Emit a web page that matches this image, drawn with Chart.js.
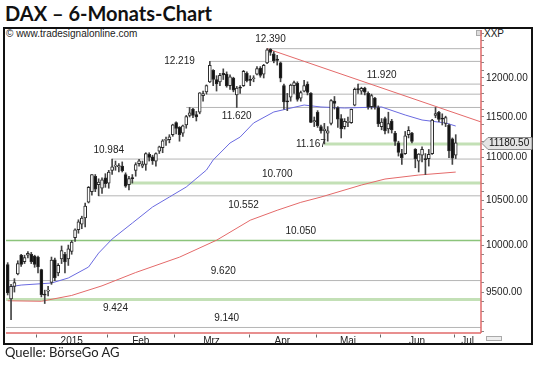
<!DOCTYPE html>
<html>
<head>
<meta charset="utf-8">
<script src="https://cdn.jsdelivr.net/npm/chart.js@4.4.1/dist/chart.umd.min.js"></script>
<style>
  html, body { margin: 0; padding: 0; background: #fff; }
  #wrap { position: relative; width: 540px; height: 370px; overflow: hidden; }
  #title { position: absolute; left: 5px; top: 1px; font: bold 20px Lato, sans-serif; color: #111; white-space: nowrap; }
  #frame { position: absolute; left: 3px; top: 27px; width: 526px; height: 314px; border: 2px solid #111; }
  #copy { position: absolute; left: 6px; top: 28px; font: 10px "Liberation Sans", Arial, sans-serif; color: #222; white-space: nowrap; }
  #sym { position: absolute; left: 484px; top: 28px; font: 10px "Liberation Sans", Arial, sans-serif; color: #222; }
  #icon { position: absolute; left: 476px; top: 30px; width: 4px; height: 4px; border: 1px solid #aaa; background: #ddd; }
  #zoomicon { position: absolute; left: 486px; top: 336px; width: 14px; height: 3px; border: 1px solid #aaa; background: #eee; }
  #src { position: absolute; left: 5px; top: 344px; font: 13px Lato, sans-serif; color: #222; white-space: nowrap; }
  canvas { position: absolute; left: 0; top: 0; }
</style>
</head>
<body>
<div id="wrap">
  <div id="title">DAX – 6-Monats-Chart</div>
  <div id="frame"></div>
  <div id="copy">© www.tradesignalonline.com</div>
  <div id="icon"></div>
  <div id="sym">XXP</div>
  <div id="zoomicon"></div>
  <canvas id="c" width="540" height="370"></canvas>
  <div id="src">Quelle: BörseGo AG</div>
</div>
<script>
// trading days shown (dd.mm.yyyy)
const days = [
  '15.12.2014','16.12.2014','17.12.2014','18.12.2014','19.12.2014','22.12.2014','23.12.2014','29.12.2014','30.12.2014',
  '02.01.2015','05.01.2015','06.01.2015','07.01.2015','08.01.2015','09.01.2015','12.01.2015','13.01.2015','14.01.2015','15.01.2015','16.01.2015',
  '19.01.2015','20.01.2015','21.01.2015','22.01.2015','23.01.2015','26.01.2015','27.01.2015','28.01.2015','29.01.2015','30.01.2015',
  '02.02.2015','03.02.2015','04.02.2015','05.02.2015','06.02.2015','09.02.2015','10.02.2015','11.02.2015','12.02.2015','13.02.2015',
  '16.02.2015','17.02.2015','18.02.2015','19.02.2015','20.02.2015','23.02.2015','24.02.2015','25.02.2015','26.02.2015','27.02.2015',
  '02.03.2015','03.03.2015','04.03.2015','05.03.2015','06.03.2015','09.03.2015','10.03.2015','11.03.2015','12.03.2015','13.03.2015',
  '16.03.2015','17.03.2015','18.03.2015','19.03.2015','20.03.2015','23.03.2015','24.03.2015','25.03.2015','26.03.2015','27.03.2015',
  '30.03.2015','31.03.2015',
  '01.04.2015','02.04.2015','07.04.2015','08.04.2015','09.04.2015','10.04.2015','13.04.2015','14.04.2015','15.04.2015','16.04.2015',
  '17.04.2015','20.04.2015','21.04.2015','22.04.2015','23.04.2015','24.04.2015','27.04.2015','28.04.2015','29.04.2015','30.04.2015',
  '04.05.2015','05.05.2015','06.05.2015','07.05.2015','08.05.2015','11.05.2015','12.05.2015','13.05.2015','14.05.2015','15.05.2015',
  '18.05.2015','19.05.2015','20.05.2015','21.05.2015','22.05.2015','26.05.2015','27.05.2015','28.05.2015','29.05.2015',
  '01.06.2015','02.06.2015','03.06.2015','04.06.2015','05.06.2015','08.06.2015','09.06.2015','10.06.2015','11.06.2015','12.06.2015',
  '15.06.2015','16.06.2015','17.06.2015','18.06.2015','19.06.2015','22.06.2015','23.06.2015','24.06.2015','25.06.2015','26.06.2015',
  '29.06.2015','30.06.2015',
  '01.07.2015'
];

const open = [
  9790, 9430, 9560, 9690, 9890, 9820, 9890, 9900, 9880,
  9870, 9735, 9480, 9510, 9600, 9840, 9700, 9850, 9900, 9850, 9930,
  10080, 10170, 10230, 10300, 10480, 10600, 10780, 10680, 10640, 10760,
  10700, 10850, 10900, 10890, 10900, 10800, 10680, 10760, 10850, 10930,
  10900, 10920, 11040, 11010, 10960, 11080, 11120, 11210, 11220, 11280,
  11430, 11370, 11300, 11400, 11520, 11600, 11530, 11560, 11770, 11820,
  11950, 12100, 11980, 11950, 12060, 12050, 11900, 12000, 11780, 11880,
  11900, 12060,
  11980, 11990, 12050, 12130, 12050, 12200, 12380, 12320, 12250, 12200,
  11900, 11700, 11750, 11900, 11930, 11740, 11830, 11920, 11800, 11440,
  11560, 11380, 11330, 11300, 11420, 11700, 11620, 11480, 11380, 11430,
  11430, 11650, 11850, 11830, 11870, 11800, 11630, 11740, 11620,
  11380, 11480, 11350, 11450, 11300, 11180, 11050, 11050, 11280, 11300,
  11100, 10960, 11030, 10980, 10990, 11050, 11520, 11560, 11480, 11420,
  11400, 11230,
  11030
];
const high = [
  9810, 9580, 9640, 9830, 9900, 9890, 9930, 9920, 9890,
  9880, 9740, 9520, 9560, 9870, 9860, 9800, 9990, 9920, 10000, 10050,
  10180, 10280, 10320, 10470, 10660, 10800, 10800, 10750, 10760, 10810,
  10850, 10984, 10960, 10930, 10950, 10820, 10780, 10800, 10940, 10980,
  10960, 11060, 11060, 11030, 11060, 11140, 11220, 11250, 11280, 11410,
  11440, 11380, 11400, 11520, 11620, 11610, 11570, 11810, 11830, 11910,
  12219, 12110, 12030, 12060, 12120, 12080, 12040, 12010, 11890, 11900,
  12100, 12080,
  12030, 12030, 12150, 12150, 12180, 12390, 12390, 12350, 12300, 12210,
  11920, 11800, 11920, 11960, 11950, 11830, 11970, 11950, 11810, 11500,
  11580, 11400, 11420, 11380, 11720, 11760, 11630, 11530, 11480, 11500,
  11600, 11870, 11920, 11880, 11880, 11820, 11790, 11750, 11640,
  11480, 11500, 11560, 11470, 11320, 11200, 11100, 11320, 11380, 11310,
  11110, 11050, 11130, 11050, 11100, 11470, 11620, 11570, 11540, 11510,
  11410, 11240,
  11280
];
const low = [
  9470, 9219, 9500, 9680, 9770, 9800, 9860, 9800, 9760,
  9700, 9450, 9382, 9460, 9580, 9620, 9670, 9800, 9700, 9780, 9900,
  10040, 10130, 10180, 10200, 10470, 10560, 10600, 10552, 10580, 10650,
  10640, 10800, 10850, 10830, 10830, 10650, 10620, 10700, 10780, 10900,
  10880, 10850, 10960, 10920, 10900, 11050, 11060, 11150, 11180, 11260,
  11290, 11200, 11260, 11360, 11500, 11490, 11450, 11540, 11700, 11790,
  11940, 11900, 11830, 11900, 11980, 11880, 11850, 11820, 11620, 11800,
  11890, 11950,
  11900, 11950, 12040, 12010, 12000, 12190, 12300, 12200, 12170, 11950,
  11600, 11580, 11700, 11800, 11700, 11700, 11820, 11780, 11430, 11380,
  11370, 11300, 11167, 11200, 11400, 11600, 11370, 11240, 11350, 11380,
  11420, 11640, 11800, 11790, 11780, 11600, 11600, 11600, 11380,
  11340, 11290, 11300, 11300, 11150, 11020, 10920, 11040, 11240, 11180,
  10880, 10830, 10950, 10800, 10900, 11040, 11490, 11440, 11400, 11380,
  11000, 10920,
  10990
];
const close = [
  9490, 9560, 9600, 9800, 9790, 9865, 9910, 9820, 9790,
  9764, 9473, 9469, 9518, 9837, 9648, 9781, 9941, 9818, 9960, 10032,
  10167, 10257, 10299, 10435, 10649, 10798, 10628, 10710, 10738, 10694,
  10828, 10891, 10911, 10906, 10846, 10664, 10753, 10752, 10919, 10963,
  10924, 11050, 11005, 10961, 11051, 11130, 11206, 11211, 11253, 11402,
  11356, 11280, 11390, 11504, 11551, 11520, 11500, 11806, 11799, 11901,
  12168, 11980, 11922, 12036, 12040, 11896, 12016, 11843, 11868, 11868,
  12086, 11966,
  11968, 12001, 12124, 12035, 12166, 12375, 12338, 12227, 12231, 11999,
  11689, 11692, 11906, 11939, 11723, 11811, 11902, 11812, 11432, 11454,
  11390, 11327, 11350, 11327, 11709, 11673, 11472, 11351, 11446, 11447,
  11595, 11853, 11848, 11864, 11815, 11625, 11771, 11624, 11413,
  11436, 11327, 11419, 11340, 11197, 11065, 11001, 11265, 11333, 11197,
  10985, 11045, 11100, 10978, 11041, 11461, 11542, 11471, 11473, 11492,
  11083, 10995,
  11180.5
];

// moving averages at these days
const ma50Days = ['15.12.2014','19.12.2014','08.01.2015','15.01.2015','23.01.2015','28.01.2015','03.02.2015','11.02.2015',
  '19.02.2015','26.02.2015','05.03.2015','13.03.2015','17.03.2015','24.03.2015','27.03.2015','02.04.2015','14.04.2015',
  '27.04.2015','05.05.2015','14.05.2015','01.06.2015','10.06.2015','17.06.2015','26.06.2015','01.07.2015'];
const ma50 = [9552, 9573, 9594, 9647, 9763, 9913, 10066, 10243,
  10424, 10538, 10654, 10853, 10973, 11178, 11251, 11425, 11563,
  11651, 11626, 11613, 11626, 11525, 11462, 11425, 11387];

const ma200Days = ['15.12.2014','05.01.2015','16.01.2015','29.01.2015','12.02.2015','03.03.2015','18.03.2015','01.04.2015',
  '15.04.2015','24.04.2015','05.05.2015','21.05.2015','02.06.2015','16.06.2015','01.07.2015'];
const ma200 = [9410, 9405, 9465, 9565, 9705, 9869, 10053, 10275,
  10387, 10477, 10538, 10677, 10747, 10794, 10829];

// horizontal levels and the day each one starts at (null = whole width)
const levels = [12390, 12219, 11920, 11790, 11620, 11167, 10984, 10700, 10552, 10050, 9620, 9424, 9140];
const levelFrom = ['10.04.2015','16.03.2015','20.05.2015','13.03.2015','05.03.2015','06.05.2015','03.02.2015',
  '10.02.2015','28.01.2015', null, null, null, null];
const levelText = ['12.390','12.219','11.920','','11.620','11.167','10.984','10.700','10.552','10.050','9.620','9.424','9.140'];

// trend line from the high
const trendDays = ['10.04.2015', '23.06.2015'];
const trendValues = [12390, 11634];

const monthNames = ['2015', 'Feb', 'Mrz', 'Apr', 'Mai', 'Jun', 'Jul'];
const yLabelValues = [9500, 10000, 10500, 11000, 11500, 12000];

// ---- layout / style config ----
const rightPadDays = 7;
const yMin = 9085, yMax = 12645, minorStep = 100;
const greenThick = [11167, 10700, 9424];
const greenThin = [10050];
// where each level label sits: [day for x centre, above/below/on the line]
const labelLayout = [
  ['13.04.2015', 'above'], ['03.03.2015', 'on'], ['01.06.2015', 'above'], [null, ''],
  ['26.03.2015', 'below'], ['29.04.2015', 'on'], ['02.02.2015', 'above'], ['15.04.2015', 'above'],
  ['30.03.2015', 'below'], ['24.04.2015', 'above'], ['20.03.2015', 'above'], ['04.02.2015', 'below'],
  ['23.03.2015', 'above']
];

const N = days.length;
const idx = d => days.indexOf(d);
const xMin = -0.5;
const xMax = N - 1 + rightPadDays + 0.5;

// month boundaries and label centres
const monthOf = d => d.slice(3, 5);
const bounds = [];
for (let i = 1; i < N; i++) {
  if (monthOf(days[i]) !== monthOf(days[i - 1])) bounds.push(i - 0.5);
}
const mids = bounds.map((b, k) => (b + (k + 1 < bounds.length ? bounds[k + 1] : xMax)) / 2);

const yTicks = [];
for (let v = Math.ceil(yMin / minorStep) * minorStep; v <= yMax; v += minorStep) yTicks.push(v);

const bodies = days.map((d, i) => ({ x: i, y: [open[i], close[i]] }));
const wicks = days.map((d, i) => ({ x: i, y: [low[i], high[i]] }));

const levelSets = levels.map((v, k) => {
  let color = '#b5b5b5', width = 1;
  if (greenThick.includes(v)) { color = '#c3e0b6'; width = 3; }
  if (greenThin.includes(v)) { color = '#8cc47b'; width = 1.5; }
  return {
    type: 'line',
    data: [{ x: levelFrom[k] ? idx(levelFrom[k]) : xMin, y: v }, { x: xMax, y: v }],
    borderColor: color,
    borderWidth: width,
    pointRadius: 0,
    order: 5
  };
});

// trend line carried on to the right edge (straight on the log scale)
const t0 = idx(trendDays[0]), t1 = idx(trendDays[1]);
const trendEnd = trendValues[0] * Math.pow(trendValues[1] / trendValues[0], (xMax - t0) / (t1 - t0));

const font10 = { family: '"Liberation Sans", Arial, sans-serif', size: 10 };
const axisRed = '#e06a6a';

// red axis lines along the bottom and the right edge of the plot
const axisSets = [
  [{ x: xMin, y: yMin }, { x: xMax, y: yMin }],
  [{ x: xMax, y: yMin }, { x: xMax, y: yMax }]
].map(pts => ({
  type: 'line',
  data: pts,
  borderColor: axisRed,
  borderWidth: 1.5,
  pointRadius: 0,
  clip: 4,
  order: -1
}));

const overlay = {
  id: 'overlay',
  afterDraw(chart) {
    const { ctx, chartArea: a, scales: { x, y } } = chart;
    const bottom = Math.round(a.bottom) + 0.5;
    ctx.save();
    // month boundary ticks
    ctx.strokeStyle = '#666';
    ctx.lineWidth = 1;
    bounds.forEach(b => {
      const px = Math.round(x.getPixelForValue(b)) + 0.5;
      ctx.beginPath();
      ctx.moveTo(px, bottom + 1);
      ctx.lineTo(px, bottom + 4);
      ctx.stroke();
    });
    // level labels
    ctx.font = '10px "Liberation Sans", Arial, sans-serif';
    ctx.fillStyle = '#222';
    ctx.textAlign = 'center';
    ctx.textBaseline = 'middle';
    levels.forEach((v, k) => {
      const t = levelText[k];
      if (!t) return;
      const [d, place] = labelLayout[k];
      const py = y.getPixelForValue(v);
      const dy = place === 'above' ? -9 : place === 'below' ? 9 : 0;
      ctx.fillText(t, x.getPixelForValue(idx(d)), py + dy);
    });
    // last price tag
    const last = close[N - 1];
    const py = Math.round(y.getPixelForValue(last)) + 0.5;
    const x0 = Math.round(a.right) + 1;
    ctx.beginPath();
    ctx.moveTo(x0, py);
    ctx.lineTo(x0 + 6, py - 6);
    ctx.lineTo(x0 + 50, py - 6);
    ctx.lineTo(x0 + 50, py + 6);
    ctx.lineTo(x0 + 6, py + 6);
    ctx.closePath();
    ctx.fillStyle = '#e4e4e4';
    ctx.fill();
    ctx.strokeStyle = '#8a8a8a';
    ctx.stroke();
    ctx.fillStyle = '#111';
    ctx.textAlign = 'left';
    ctx.fillText(last.toFixed(2), x0 + 7, py);
    ctx.restore();
  }
};

new Chart(document.getElementById('c'), {
  type: 'bar',
  data: {
    datasets: [
      {
        data: bodies,
        grouped: false,
        barThickness: 3,
        minBarLength: 1,
        borderWidth: 1,
        borderSkipped: false,
        borderColor: '#2a2a2a',
        backgroundColor: c => (close[c.dataIndex] >= open[c.dataIndex] ? '#ffffff' : '#111111'),
        order: 0
      },
      {
        data: wicks,
        grouped: false,
        barThickness: 1,
        borderWidth: 0,
        backgroundColor: '#444',
        order: 1
      },
      {
        type: 'line',
        data: ma50Days.map((d, i) => ({ x: idx(d), y: ma50[i] })),
        borderColor: '#6a6ae0',
        borderWidth: 1,
        pointRadius: 0,
        order: 2
      },
      {
        type: 'line',
        data: ma200Days.map((d, i) => ({ x: idx(d), y: ma200[i] })),
        borderColor: '#e46a6a',
        borderWidth: 1,
        pointRadius: 0,
        order: 2
      },
      {
        type: 'line',
        data: [{ x: t0, y: trendValues[0] }, { x: xMax, y: trendEnd }],
        borderColor: '#e46a6a',
        borderWidth: 1,
        pointRadius: 0,
        order: 2
      },
      ...axisSets,
      ...levelSets
    ]
  },
  options: {
    responsive: false,
    animation: false,
    layout: { padding: { left: 6, top: 30, right: 0, bottom: 25 } },
    plugins: { legend: { display: false }, tooltip: { enabled: false } },
    scales: {
      x: {
        type: 'linear',
        offset: false,
        min: xMin,
        max: xMax,
        bounds: 'data',
        grid: { display: true, offset: false, drawOnChartArea: false, drawTicks: false, color: 'rgba(0,0,0,0)' },
        border: { display: false },
        afterBuildTicks: s => { s.ticks = mids.map(v => ({ value: v })); },
        afterFit: s => { s.height = 12; },
        ticks: {
          autoSkip: false,
          maxRotation: 0,
          padding: 2,
          color: '#222',
          font: font10,
          callback: (v, i) => monthNames[i]
        }
      },
      y: {
        type: 'logarithmic',
        position: 'right',
        min: yMin,
        max: yMax,
        bounds: 'data',
        grid: { drawOnChartArea: false, drawTicks: true, tickLength: 3, tickColor: '#888' },
        border: { display: false },
        afterBuildTicks: s => { s.ticks = yTicks.map(v => ({ value: v })); },
        afterFit: s => { s.width = 59; },
        ticks: {
          autoSkip: false,
          padding: 2,
          color: '#222',
          font: font10,
          callback: v => (yLabelValues.includes(v) ? v.toFixed(2) : '')
        }
      }
    }
  },
  plugins: [overlay]
});
</script>
</body>
</html>
